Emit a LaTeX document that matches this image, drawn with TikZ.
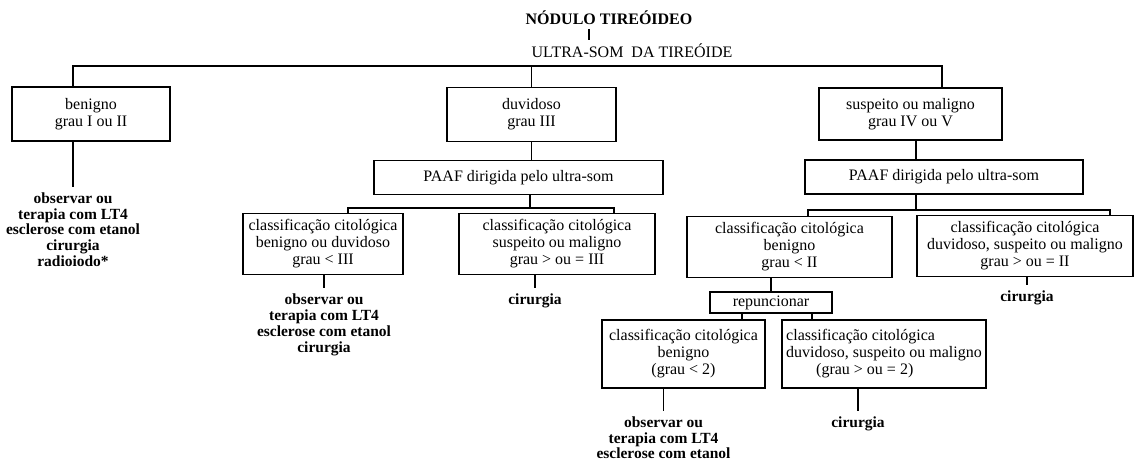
\documentclass[tikz,border=0pt]{standalone}
\usepackage{fontspec}
\setmainfont{Liberation Serif}
\usetikzlibrary{positioning}

\newcommand{\boxfont}{\fontsize{16}{17}\selectfont}
\newcommand{\condfont}{\fontsize{15.5}{15.8}\selectfont\bfseries}

\begin{document}
\begin{tikzpicture}[
    x=1pt, y=-1pt, % pixel grid, y grows downwards
    line width=1.1pt,
    node distance=10pt and 10pt,
    % --- MINIMALIST STYLES ---
    base_node/.style={draw, align=center, inner sep=0pt, font=\boxfont},
    grade/.style={base_node, minimum height=54pt},
    paaf/.style={base_node, minimum height=34pt},
    cito/.style={base_node, minimum height=61pt},
    conduta/.style={align=center, inner sep=0pt, outer sep=6pt, font=\condfont}
]
\useasboundingbox (0,0) rectangle (1136,463);

% --- TITLE ---
\node (nodulo) [font=\fontsize{16}{18}\selectfont\bfseries] at (609,18) {NÓDULO TIREÓIDEO};
\node (ultra) [font=\boxfont] at (632,51) {ULTRA-SOM\ \ DA TIREÓIDE};

% --- ROW 1 (ultrasound grade) ---
\node (benigno) [grade, minimum width=158pt] at (91,114) {benigno\\grau I ou II};
\node (duvidoso) [grade, minimum width=169pt] at (531.5,114.5) {duvidoso\\grau III};
\node (suspeito) [grade, minimum width=183pt, minimum height=52pt] at (910.5,114) {suspeito ou maligno\\grau IV ou V};

% --- ROW 2 (PAAF) ---
\node (paaf_dv) [paaf, minimum width=289pt] at (518.5,177.5) {PAAF dirigida pelo ultra-som};
\node (paaf_sm) [paaf, minimum width=278pt] at (944,177) {PAAF dirigida pelo ultra-som};

% --- ROW 3 (cytology) ---
\node (cito_bd) [cito, minimum width=160pt] at (323,244) {classificação citológica\\benigno ou duvidoso\\grau < III};
\node (cito_sm) [cito, minimum width=196pt] at (557,244) {classificação citológica\\suspeito ou maligno\\grau > ou = III};
\node (cito_b) [cito, minimum width=205pt] at (789.5,247) {classificação citológica\\benigno\\grau < II};
\node (cito_dsm) [cito, minimum width=216pt] at (1025,246) {classificação citológica\\duvidoso, suspeito ou maligno\\grau > ou = II};

% --- ROW 4 (second puncture) ---
\node (repunc) [base_node, minimum width=122pt, minimum height=21pt] at (771,302.5) {repuncionar};
\node (cito_b2) [cito, minimum width=163pt, minimum height=68pt] at (683.5,354) {classificação citológica\\benigno\\(grau < 2)};
\node (cito_dsm2) [cito, minimum width=204pt, minimum height=68pt, align=left] at (884,354) {classificação citológica\\duvidoso, suspeito ou maligno\\\hspace*{30pt}(grau > ou = 2)};

% --- OUTCOMES ---
\node (cond_1) [conduta, below=45pt of benigno, xshift=-18pt] {observar ou\\terapia com LT4\\esclerose com etanol\\cirurgia\\radioiodo*};
\node (cond_2) [conduta, below=13pt of cito_bd, xshift=1pt] {observar ou\\terapia com LT4\\esclerose com etanol\\cirurgia};
\node (cond_3) [conduta, below=13pt of cito_sm, xshift=-22pt] {cirurgia};
\node (cond_4) [conduta, below=8pt of cito_dsm, xshift=2pt] {cirurgia};
\node (cond_5) [conduta, below=22pt of cito_b2, xshift=-20pt] {observar ou\\terapia com LT4\\esclerose com etanol};
\node (cond_6) [conduta, below=22pt of cito_dsm2, xshift=-26pt] {cirurgia};

% guide points for the branch lines
\coordinate (title_x) at (589,0);
\coordinate (bar_top) at (531.5,66);
\coordinate (bar_dv) at (530,208);
\coordinate (bar_sm) at (916,210);
\coordinate (rep_l) at (742,0);
\coordinate (rep_r) at (812,0);

% Edges
\draw (title_x |- nodulo.south) -- (title_x |- ultra.north);
\draw (benigno.north -| cond_1.north) |- (bar_top) -| ([xshift=31.5pt]suspeito.north);
\draw (bar_top) -- (duvidoso.north);
\draw (benigno.south -| cond_1.north) -- (cond_1.north);

\draw (duvidoso.south) -- (duvidoso.south |- paaf_dv.north);
\draw (bar_dv |- paaf_dv.south) -- (bar_dv);
\draw ([xshift=25pt]cito_bd.north) |- (bar_dv) -| ([xshift=57pt]cito_sm.north);
\draw (cito_bd.south -| cond_2.north) -- (cond_2.north);
\draw (cito_sm.south -| cond_3.north) -- (cond_3.north);

\draw (bar_sm |- suspeito.south) -- (bar_sm |- paaf_sm.north);
\draw (bar_sm |- paaf_sm.south) -- (bar_sm);
\draw ([xshift=18.5pt]cito_b.north) |- (bar_sm) -| ([xshift=85pt]cito_dsm.north);
\draw (cito_dsm.south -| cond_4.north) -- (cond_4.north);

\draw (repunc.north) -- (repunc.north |- cito_b.south);
\draw (rep_l |- repunc.south) -- (rep_l |- cito_b2.north);
\draw (rep_r |- repunc.south) -- (rep_r |- cito_dsm2.north);
\draw (cito_b2.south -| cond_5.north) -- (cond_5.north);
\draw (cito_dsm2.south -| cond_6.north) -- (cond_6.north);

\end{tikzpicture}
\end{document}
